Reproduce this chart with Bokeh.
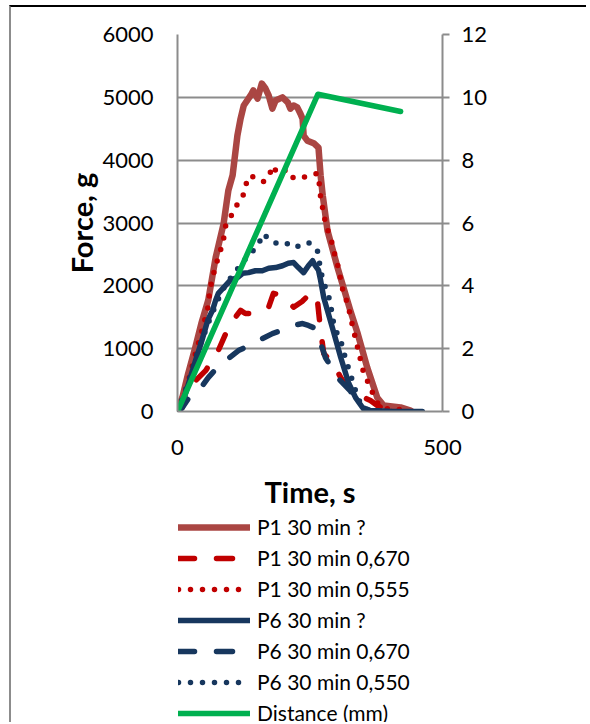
from bokeh.plotting import figure
from bokeh.layouts import column
from bokeh.models import Range1d, LinearAxis, FixedTicker, Legend, LegendItem
from bokeh.embed import file_html
from bokeh.resources import INLINE

# ---------------- data ----------------
p1_t = [0, 10, 20, 33, 45, 58, 72, 87, 96, 104, 113, 119, 125, 138, 143, 151, 159, 166, 172, 179, 185,
        198, 208, 213, 219, 226, 232, 236, 238, 245, 257, 266, 270, 274, 283, 302, 326, 340, 358, 377,
        389, 421, 440]
p1_g = [0, 250, 600, 1000, 1400, 1770, 2450, 2990, 3520, 3760, 4390, 4660, 4870, 5030, 5110, 4980, 5220,
        5140, 5030, 4820, 4950, 5000, 4920, 4820, 4870, 4840, 4740, 4660, 4390, 4310, 4270, 4200, 3760,
        3440, 2880, 2290, 1610, 1240, 700, 220, 95, 64, 16]

p1d_t = [0, 9, 21, 34, 53, 77, 91, 105, 119, 128, 138, 155, 172, 181, 195, 207, 219, 235, 247, 257, 264,
         270, 276, 294, 308, 326, 345, 364, 377, 395, 420]
p1d_g = [0, 64, 380, 490, 650, 970, 1240, 1450, 1610, 1560, 1560, 1600, 1660, 1880, 1850, 1770, 1660,
         1750, 1850, 1890, 1770, 1290, 920, 760, 540, 330, 250, 175, 95, 20, 0]

p1s_t = [0, 15, 30, 45, 57, 62, 68, 75, 81, 87, 91, 100, 109, 123, 128, 138, 151, 162, 172, 179, 189,
         198, 209, 219, 232, 247, 264, 268, 270, 279, 285, 292, 298, 304, 308, 313, 321, 330, 342, 351,
         364, 374, 385, 400, 420]
p1s_g = [0, 300, 800, 1250, 1640, 1970, 2190, 2400, 2560, 2750, 2960, 3090, 3250, 3410, 3600, 3760,
         3680, 3660, 3720, 3910, 3790, 3830, 3840, 3710, 3720, 3740, 3790, 3600, 3410, 3010, 2850, 2670,
         2450, 2280, 2090, 1890, 1720, 1370, 940, 620, 380, 175, 60, 40, 30]

p6_t = [0, 10, 20, 34, 45, 57, 66, 72, 77, 87, 100, 113, 123, 134, 147, 160, 172, 185, 198, 209, 219,
        228, 238, 247, 255, 260, 266, 270, 276, 292, 308, 323, 336, 349, 364, 400, 462]
p6_g = [0, 150, 420, 810, 1100, 1450, 1610, 1770, 1880, 1970, 2090, 2130, 2200, 2210, 2240, 2240, 2280,
        2290, 2320, 2360, 2370, 2290, 2210, 2320, 2400, 2320, 2250, 2090, 1810, 1340, 860, 450, 220, 64,
        16, 5, 0]

p6d_t = [0, 8, 20, 40, 58, 75, 91, 115, 135, 153, 179, 200, 217, 236, 247, 258, 264, 279, 302, 326, 345,
         360, 380]
p6d_g = [0, 50, 200, 330, 540, 700, 810, 970, 1050, 1130, 1240, 1300, 1370, 1400, 1370, 1330, 1240, 860,
         540, 330, 64, 10, 0]

p6s_t = [0, 20, 40, 60, 75, 85, 96, 109, 119, 132, 143, 153, 162, 175, 189, 204, 217, 232, 247, 264, 266,
         274, 283, 289, 292, 298, 308, 317, 326, 336, 345, 360, 380, 420]
p6s_g = [0, 450, 1000, 1450, 1750, 1930, 2090, 2200, 2360, 2450, 2560, 2670, 2830, 2720, 2670, 2690,
         2610, 2640, 2690, 2560, 2450, 2090, 1890, 1720, 1500, 1300, 1130, 840, 600, 330, 130, 20, 0, 0]

dist_t = [0, 265, 421]
dist_mm = [0, 10.1, 9.55]

x_ticks = [0, 500]
force_ticks = [0, 1000, 2000, 3000, 4000, 5000, 6000]
mm_ticks = [0, 2, 4, 6, 8, 10, 12]

labels = ["P1 30 min ?", "P1 30 min 0,670", "P1 30 min 0,555",
          "P6 30 min ?", "P6 30 min 0,670", "P6 30 min 0,550", "Distance (mm)"]

# ---------------- styling ----------------
FONT = "Lato"
GRID = "#8c8c8c"
BROWN = "#AA4643"
RED = "#C00000"
NAVY = "#17375E"
GREEN = "#00B050"
DASH = "16 22"
DOT = "0 12"

series = [
    (p1_t, p1_g, BROWN, "solid", 6.5, None),
    (p1d_t, p1d_g, RED, DASH, 5.5, None),
    (p1s_t, p1s_g, RED, DOT, 5.5, None),
    (p6_t, p6_g, NAVY, "solid", 5.5, None),
    (p6d_t, p6d_g, NAVY, DASH, 5.5, None),
    (p6s_t, p6s_g, NAVY, DOT, 5.5, None),
    (dist_t, dist_mm, GREEN, "solid", 5.5, "mm"),
]

W = 575
H_MAIN = 506
H_LEG = 209
p = figure(width=W, height=H_MAIN, output_backend="svg", toolbar_location=None,
           x_range=Range1d(0, 500), y_range=Range1d(0, 6000),
           min_border_left=166, min_border_right=144, min_border_top=27,
           min_border_bottom=H_MAIN - 27 - 377)
p.extra_y_ranges = {"mm": Range1d(0, 12)}
p.outline_line_color = None
p.background_fill_color = "white"
p.border_fill_color = "white"

p.xaxis.ticker = FixedTicker(ticks=x_ticks)
p.yaxis.ticker = FixedTicker(ticks=force_ticks)
for ax in (p.xaxis[0], p.yaxis[0]):
    ax.axis_line_color = GRID
    ax.axis_line_width = 2
    ax.major_tick_out = 0
    ax.major_tick_in = 0
    ax.minor_tick_out = 0
    ax.minor_tick_in = 0
    ax.major_label_text_font = FONT
    ax.major_label_text_font_size = "22px"
    ax.major_label_text_color = "black"
    ax.axis_label_text_font = FONT
    ax.axis_label_text_font_style = "bold"
    ax.axis_label_text_font_size = "29px"
    ax.axis_label_text_color = "black"
p.xaxis.axis_label = "Time, s"
p.yaxis.axis_label = "Force, g"
p.yaxis.major_label_standoff = 24
p.xaxis.major_label_standoff = 28
p.xaxis.axis_label_standoff = 16
p.yaxis.axis_label_standoff = 0

rax = LinearAxis(y_range_name="mm", ticker=FixedTicker(ticks=mm_ticks))
rax.axis_line_color = GRID
rax.axis_line_width = 2
rax.major_tick_line_color = GRID
rax.major_tick_line_width = 2
rax.major_tick_out = 7
rax.major_tick_in = 0
rax.minor_tick_out = 0
rax.minor_tick_in = 0
rax.major_label_standoff = 12
rax.major_label_text_font = FONT
rax.major_label_text_font_size = "22px"
rax.major_label_text_color = "black"
p.add_layout(rax, "right")

p.xgrid.grid_line_color = None
p.ygrid.grid_line_color = GRID
p.ygrid.grid_line_width = 2

for xs, ys, col, dash, lw, rng in series:
    kw = dict(line_color=col, line_width=lw, line_dash=dash, line_cap="round", line_join="round")
    if rng:
        kw["y_range_name"] = rng
    p.line(xs, ys, **kw)

# ---------------- legend panel (its own renderers sit outside its visible range) ----------------
leg = figure(width=W, height=H_LEG, output_backend="svg", toolbar_location=None,
             x_range=Range1d(-2, -1), y_range=Range1d(-2, -1),
             x_axis_type=None, y_axis_type=None,
             min_border_left=0, min_border_right=0, min_border_top=0, min_border_bottom=0)
leg.outline_line_color = None
leg.xgrid.grid_line_color = None
leg.ygrid.grid_line_color = None
items = []
for (xs, ys, col, dash, lw, rng), lab in zip(series, labels):
    r = leg.line(xs, ys, line_color=col, line_width=lw, line_dash=dash, line_cap="round", line_join="round")
    items.append(LegendItem(label=lab, renderers=[r]))
legend = Legend(items=items, location=(1, -3), orientation="vertical",
                glyph_width=72, glyph_height=24, label_height=24, spacing=6,
                label_standoff=7, padding=0, margin=0,
                border_line_color=None, background_fill_alpha=0,
                label_text_font=FONT, label_text_font_size="21px", label_text_color="black")
leg.add_layout(legend, "center")

page = column(p, leg, spacing=0)
page.styles = {"margin-top": "5px", "margin-left": "9px",
               "border-top": "2px solid black", "border-left": "2px solid #8c8c8c"}

open("out.html", "w").write(file_html(page, INLINE))
